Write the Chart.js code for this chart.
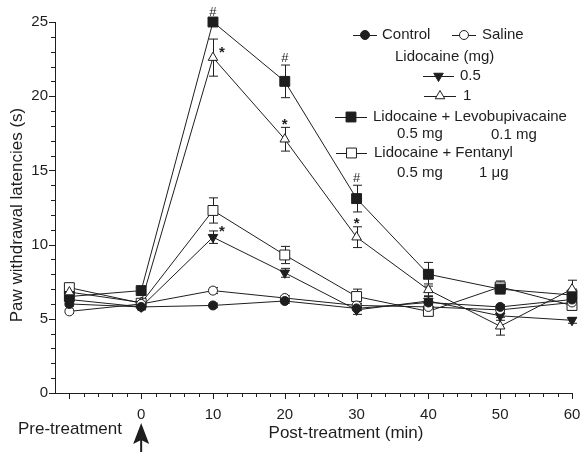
<!DOCTYPE html>
<html>
<head>
<meta charset="utf-8">
<script src="https://cdn.jsdelivr.net/npm/chart.js@4/dist/chart.umd.min.js"></script>
<style>
  html, body { margin: 0; padding: 0; background: #fff; overflow: hidden; }
  #wrap { width: 580px; height: 452px; position: absolute; left: 0; top: 0; }
</style>
</head>
<body>
<div id="wrap"><canvas id="chart"></canvas></div>
<script>
// Latências de retirada da pata — pré e pós-tratamento
const FONT = '"Liberation Sans", Arial, sans-serif';
const INK = '#1e1e1e';

const tempos      = [-10, 0, 10, 20, 30, 40, 50, 60];
const xTickLabels = [0, 10, 20, 30, 40, 50, 60];
const yTickLabels = [0, 5, 10, 15, 20, 25];

const controle = [6.0, 5.8, 5.9, 6.2, 5.7, 6.1, 5.8, 6.3];
const salina   = [5.5, 6.0, 6.9, 6.4, 5.9, 5.8, 5.6, 6.1];
const lido05   = [6.3, 5.8, 10.5, 8.1, 5.6, 6.2, 5.2, 4.9];
const lido1    = [6.8, 6.1, 22.6, 17.1, 10.5, 6.95, 4.5, 7.0];
const levo     = [6.5, 6.9, 25.0, 21.0, 13.1, 8.0, 7.0, 6.6];
const fenta    = [7.1, 6.05, 12.3, 9.3, 6.5, 5.5, 7.15, 5.9];

const errControle = [0.15, 0.15, 0.15, 0.15, 0.15, 0.15, 0.15, 0.15];
const errSalina   = [0.15, 0.15, 0.2, 0.15, 0.15, 0.15, 0.15, 0.15];
const errLido05   = [0.2, 0.2, 0.42, 0.3, 0.3, 0.3, 0.3, 0.2];
const errLido1    = [0.3, 0.2, 1.25, 0.8, 0.7, 0.4, 0.6, 0.6];
const errLevo     = [0.3, 0.2, 0.2, 1.1, 0.9, 0.8, 0.3, 0.4];
const errFenta    = [0.2, 0.2, 0.85, 0.58, 0.5, 0.3, 0.4, 0.3];

// marcas de significância: '#' e '*'
const marcas = [
  { serie: 'levo',  t: 10, txt: '#', lado: 'top' },
  { serie: 'levo',  t: 20, txt: '#', lado: 'top' },
  { serie: 'levo',  t: 30, txt: '#', lado: 'top' },
  { serie: 'lido1', t: 10, txt: '*', lado: 'right' },
  { serie: 'lido1', t: 20, txt: '*', lado: 'top' },
  { serie: 'lido1', t: 30, txt: '*', lado: 'top' },
  { serie: 'lido05', t: 10, txt: '*', lado: 'right' },
];

const series = [
  { id: 'controle', vals: controle, err: errControle, style: 'circle',   radius: 4.5, rot: 0,   fill: INK },
  { id: 'salina',   vals: salina,   err: errSalina,   style: 'circle',   radius: 4.5, rot: 0,   fill: '#fff' },
  { id: 'lido05',   vals: lido05,   err: errLido05,   style: 'triangle', radius: 5.5, rot: 180, fill: INK },
  { id: 'lido1',    vals: lido1,    err: errLido1,    style: 'triangle', radius: 5.5, rot: 0,   fill: '#fff' },
  { id: 'levo',     vals: levo,     err: errLevo,     style: 'rect',     radius: 7,   rot: 0,   fill: INK },
  { id: 'fenta',    vals: fenta,    err: errFenta,    style: 'rect',     radius: 7,   rot: 0,   fill: '#fff' },
];

const datasets = series.map(s => ({
  label: s.id,
  data: tempos.map((t, i) => ({ x: t, y: s.vals[i] })),
  borderColor: INK,
  borderWidth: 1,
  tension: 0,
  clip: false,
  pointStyle: s.style,
  pointRadius: s.radius,
  pointRotation: s.rot,
  pointBackgroundColor: s.fill,
  pointBorderColor: INK,
  pointBorderWidth: 1,
}));

function marcador(ctx, s, x, y) {
  ctx.save();
  ctx.fillStyle = s.fill;
  ctx.strokeStyle = INK;
  ctx.lineWidth = 1;
  Chart.helpers.drawPoint(ctx, { pointStyle: s.style, radius: s.radius, rotation: s.rot, borderWidth: 1 }, x, y);
  ctx.restore();
}

const errorBars = {
  id: 'errorBars',
  beforeDatasetsDraw(chart) {
    const { ctx, scales: { x, y } } = chart;
    ctx.save();
    ctx.strokeStyle = INK;
    ctx.lineWidth = 1;
    series.forEach(s => {
      tempos.forEach((t, i) => {
        const px = Math.round(x.getPixelForValue(t)) + 0.5;
        const top = y.getPixelForValue(s.vals[i] + s.err[i]);
        const bot = y.getPixelForValue(s.vals[i] - s.err[i]);
        ctx.beginPath();
        ctx.moveTo(px, top); ctx.lineTo(px, bot);
        ctx.moveTo(px - 4.5, top); ctx.lineTo(px + 4.5, top);
        ctx.moveTo(px - 4.5, bot); ctx.lineTo(px + 4.5, bot);
        ctx.stroke();
      });
    });
    ctx.restore();
  },
};

const extras = {
  id: 'extras',
  afterDraw(chart) {
    const { ctx, chartArea: a, scales: { x, y } } = chart;
    ctx.save();
    ctx.strokeStyle = INK;
    ctx.fillStyle = INK;
    ctx.lineWidth = 1;

    // marcas de escala
    ctx.beginPath();
    for (let v = -10; v <= 60; v += 2) {
      const px = Math.round(x.getPixelForValue(v)) + 0.5;
      ctx.moveTo(px, a.bottom);
      ctx.lineTo(px, a.bottom + (v % 10 === 0 ? 6 : 4));
    }
    for (let v = 0; v <= 25; v += 1) {
      const py = Math.round(y.getPixelForValue(v)) + 0.5;
      ctx.moveTo(a.left, py);
      ctx.lineTo(a.left - (v % 5 === 0 ? 6 : 4), py);
    }
    ctx.stroke();

    // significância
    marcas.forEach(m => {
      const s = series.find(q => q.id === m.serie);
      const i = tempos.indexOf(m.t);
      const px = x.getPixelForValue(m.t);
      ctx.textAlign = 'center';
      ctx.textBaseline = 'middle';
      ctx.font = m.txt === '*' ? `bold 15px ${FONT}` : `13px ${FONT}`;
      if (m.lado === 'top') {
        const top = y.getPixelForValue(s.vals[i] + s.err[i]);
        ctx.fillText(m.txt, px, top - (m.txt === '*' ? 3 : 7));
      } else {
        const py = y.getPixelForValue(s.vals[i]);
        ctx.fillText(m.txt, px + 9, py - 5);
      }
    });

    // título do eixo y
    ctx.font = `17px ${FONT}`;
    ctx.textAlign = 'center';
    ctx.textBaseline = 'middle';
    ctx.save();
    ctx.translate(17, 215);
    ctx.rotate(-Math.PI / 2);
    ctx.fillText('Paw withdrawal latencies (s)', 0, 0);
    ctx.restore();

    // rótulos inferiores
    ctx.textAlign = 'left';
    ctx.fillText('Pre-treatment', 18, 429);
    ctx.textAlign = 'center';
    ctx.fillText('Post-treatment (min)', 346, 433);

    // seta do tratamento
    const ax = x.getPixelForValue(0);
    ctx.beginPath();
    ctx.moveTo(ax, 423);
    ctx.lineTo(ax + 8, 444);
    ctx.lineTo(ax, 440);
    ctx.lineTo(ax - 8, 444);
    ctx.closePath();
    ctx.fill();
    ctx.fillRect(ax - 1, 438, 2, 14);

    // legenda
    ctx.font = `15px ${FONT}`;
    ctx.textAlign = 'left';
    ctx.textBaseline = 'middle';
    const simbolo = (id, x0, x1, yy) => {
      ctx.beginPath();
      ctx.moveTo(x0, yy + 0.5); ctx.lineTo(x1, yy + 0.5);
      ctx.stroke();
      marcador(ctx, series.find(q => q.id === id), (x0 + x1) / 2, yy);
    };
    simbolo('controle', 353, 377, 35);
    ctx.fillText('Control', 382, 35);
    simbolo('salina', 452, 476, 35);
    ctx.fillText('Saline', 482, 35);
    ctx.fillText('Lidocaine (mg)', 395, 57);
    simbolo('lido05', 423, 454, 76);
    ctx.fillText('0.5', 460, 76);
    simbolo('lido1', 424, 456, 96);
    ctx.fillText('1', 463, 96);
    simbolo('levo', 335, 367, 117);
    ctx.fillText('Lidocaine + Levobupivacaine', 373, 117);
    ctx.fillText('0.5 mg', 397, 134);
    ctx.fillText('0.1 mg', 491, 135);
    simbolo('fenta', 336, 367, 153);
    ctx.fillText('Lidocaine + Fentanyl', 374, 153);
    ctx.fillText('0.5 mg', 397, 173);
    ctx.fillText('1 \u03bcg', 479, 173);

    ctx.restore();
  },
};

new Chart(document.getElementById('chart'), {
  type: 'line',
  data: { datasets },
  plugins: [errorBars, extras],
  options: {
    responsive: true,
    maintainAspectRatio: false,
    animation: false,
    layout: { padding: { left: 0, right: 8, top: 22, bottom: 0 } },
    plugins: { legend: { display: false }, tooltip: { enabled: false } },
    scales: {
      x: {
        type: 'linear',
        min: -12,
        max: 60,
        afterFit: s => { s.height = 59; s.paddingLeft = 0; s.paddingRight = 0; },
        afterBuildTicks: s => { s.ticks = xTickLabels.map(v => ({ value: v })); },
        grid: { display: false, drawTicks: false },
        border: { display: true, color: INK, width: 1 },
        ticks: { autoSkip: false, maxRotation: 0, padding: 13, color: INK, font: { family: FONT, size: 15 } },
      },
      y: {
        type: 'linear',
        min: 0,
        max: 25,
        afterFit: s => { s.width = 55; s.paddingTop = 0; s.paddingBottom = 0; },
        afterBuildTicks: s => { s.ticks = yTickLabels.map(v => ({ value: v })); },
        grid: { display: false, drawTicks: false },
        border: { display: true, color: INK, width: 1 },
        ticks: { padding: 7, color: INK, font: { family: FONT, size: 15 } },
      },
    },
  },
});
</script>
</body>
</html>
